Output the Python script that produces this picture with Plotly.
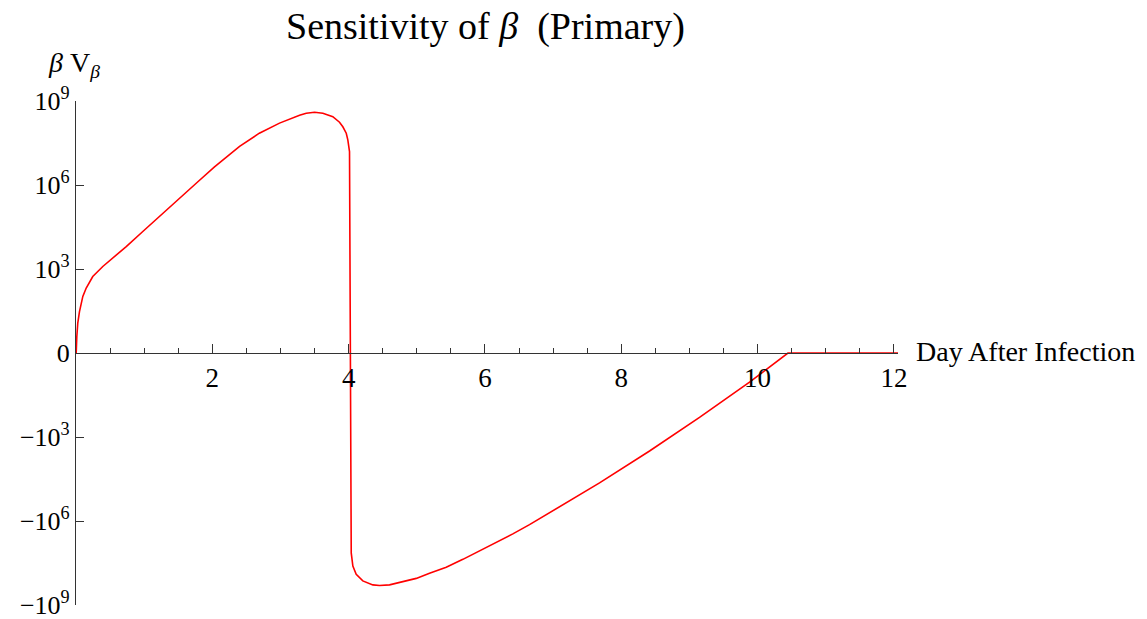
import numpy as np
import plotly.graph_objects as go

# Sensitivity of beta over the course of a primary infection
days = [0.0, 0.003, 0.012, 0.026, 0.051, 0.100, 0.150, 0.246, 0.393, 0.540, 0.737,
        0.980, 1.225, 1.519, 1.776, 2.032, 2.40, 2.69, 2.986, 3.280, 3.378, 3.500,
        3.622, 3.768, 3.866, 3.915, 3.965, 3.988, 4.003, 4.013,
        4.038, 4.062, 4.111, 4.208, 4.355, 4.453, 4.600, 4.795, 4.992, 5.187, 5.432,
        5.676, 5.921, 6.166, 6.409, 6.654, 7.168, 7.681, 8.415, 9.148, 9.882,
        10.445, 12.06]
sens = [0.0, 0.0, 2.9, 10.7, 29.0, 104.0, 208.0, 536.0, 1.23e3, 2.455e3, 6.31e3,
        2.19e4, 7.41e4, 3.39e5, 1.23e6, 4.47e6, 2.40e7, 7.08e7, 1.62e8, 3.09e8, 3.63e8, 3.98e8,
        3.63e8, 2.75e8, 1.74e8, 1.20e8, 7.08e7, 4.07e7, 2.34e7, 1.55e7,
        -1.38e7, -4.07e7, -7.94e7, -1.38e8, -1.91e8, -2.00e8, -1.91e8, -1.51e8, -1.12e8,
        -7.41e7, -4.47e7, -2.34e7, -1.17e7, -6.03e6, -2.88e6, -1.35e6, -2.40e5, -4.37e4,
        -3.16e3, -199.0, -10.0, 0.0, 0.0]

y_tick_exp = [-9, -6, -3, 0, 3, 6, 9]
y_tick_text = ["\u221210<sup>9</sup>", "\u221210<sup>6</sup>", "\u221210<sup>3</sup>", "0",
               "10<sup>3</sup>", "10<sup>6</sup>", "10<sup>9</sup>"]
x_tick_vals = [2, 4, 6, 8, 10, 12]
x_tick_text = ["2", "4", "6", "8", "10", "12"]


def symlog(v):
    v = np.asarray(v, dtype=float)
    return np.sign(v) * np.log10(1.0 + np.abs(v))


FONT = "Liberation Serif"
W, H = 1147, 619
ML, MR, MT, MB = 76, 249, 101, 14
PW, PH = W - ML - MR, H - MT - MB


def px(x):
    return (x - ML) / PW


def py(y):
    return (H - MB - y) / PH


fig = go.Figure()
fig.add_trace(go.Scatter(
    x=days, y=symlog(sens), mode="lines",
    line=dict(color="#ff0000", width=1.6),
    hoverinfo="skip", showlegend=False,
))

fig.update_layout(
    template="none",
    width=W, height=H,
    margin=dict(l=ML, r=MR, t=MT, b=MB),
    paper_bgcolor="white", plot_bgcolor="white",
    font=dict(family=FONT, size=28, color="black"),
    xaxis=dict(
        range=[0, 12.06], anchor="free", position=0.5, automargin=False,
        showgrid=False, zeroline=False,
        showline=True, linecolor="#333", linewidth=1.2,
        ticks="inside", ticklen=9, tickwidth=1, tickcolor="#333",
        tickvals=x_tick_vals, ticktext=x_tick_text,
        ticklabelstandoff=0, ticklabeloverflow="allow",
        minor=dict(ticks="inside", ticklen=5, tickwidth=1, tickcolor="#333",
                   dtick=0.5, tick0=0, showgrid=False),
        tickfont=dict(family=FONT, size=27, color="black"),
    ),
    yaxis=dict(
        range=[-9, 9], automargin=False, showgrid=False, zeroline=False,
        showline=True, linecolor="#333", linewidth=1.2,
        ticks="inside", ticklen=8, tickwidth=1, tickcolor="#333",
        tickvals=y_tick_exp, ticktext=y_tick_text,
        ticklabeloverflow="allow",
        tickfont=dict(family=FONT, size=26, color="black"),
    ),
    annotations=[
        dict(text="Sensitivity of <i>\u03b2</i>\u00a0 (Primary)", x=px(485), y=py(26),
             xref="paper", yref="paper", xanchor="center", yanchor="middle",
             showarrow=False, font=dict(family=FONT, size=38, color="black")),
        dict(text="<i>\u03b2</i> V<sub><i>\u03b2</i></sub>", x=px(46), y=py(64),
             xref="paper", yref="paper", xanchor="left", yanchor="middle",
             showarrow=False, font=dict(family=FONT, size=28, color="black")),
        dict(text="Day After Infection", x=px(914), y=py(351),
             xref="paper", yref="paper", xanchor="left", yanchor="middle",
             showarrow=False, font=dict(family=FONT, size=28, color="black")),
    ],
)

fig.write_html("out.html")
